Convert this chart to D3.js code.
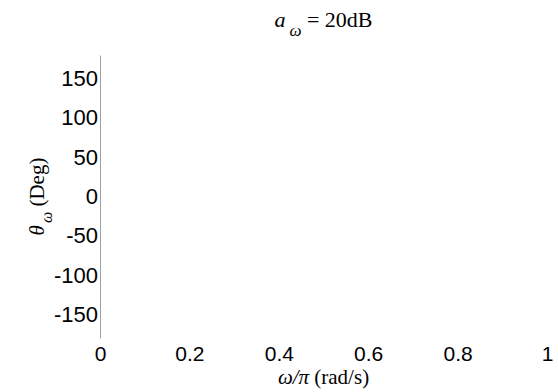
<!DOCTYPE html>
<html>
<head>
<meta charset="utf-8">
<script src="https://cdn.jsdelivr.net/npm/d3@7"></script>
<style>
  body { margin: 0; background: #fff; }
  svg { display: block; }
</style>
</head>
<body>
<svg id="chart"></svg>
<script>
// axis setup
const xDomain = [0, 1];
const yDomain = [-180, 180];
const xTicks = [0, 0.2, 0.4, 0.6, 0.8, 1];
const yTicks = [-150, -100, -50, 0, 50, 100, 150];
// the phase curve is not drawn in the reference, so the series is empty
const phaseSeries = [];

const width = 558, height = 392;
const margin = { top: 55, right: 11, bottom: 54, left: 100 };

const svg = d3.select('#chart')
  .attr('width', width)
  .attr('height', height);

const x = d3.scaleLinear()
  .domain(xDomain)
  .range([margin.left, width - margin.right]);

const y = d3.scaleLinear()
  .domain(yDomain)
  .range([height - margin.bottom, margin.top]);

const tickFont = '"Liberation Sans", Arial, sans-serif';
const labelFont = '"Liberation Serif", "Times New Roman", serif';

// y axis: plain grey spine, no tick marks
const yAxis = svg.append('g')
  .attr('transform', `translate(${margin.left},0)`)
  .call(d3.axisLeft(y).tickValues(yTicks).tickSize(0).tickSizeOuter(0).tickPadding(2)
    .tickFormat(d => String(d)));
yAxis.select('.domain').attr('stroke', '#a0a0a0');
yAxis.selectAll('text')
  .attr('font-family', tickFont)
  .attr('font-size', 22)
  .attr('fill', '#000');

// x axis: labels only
const xAxis = svg.append('g')
  .attr('transform', `translate(0,${height - margin.bottom})`)
  .call(d3.axisBottom(x).tickValues(xTicks).tickSize(0).tickPadding(8)
    .tickFormat(d => String(d)));
xAxis.select('.domain').remove();
xAxis.selectAll('text')
  .attr('font-family', tickFont)
  .attr('font-size', 21)
  .attr('fill', '#000');

// series (empty)
const line = d3.line().x(d => x(d[0])).y(d => y(d[1]));
svg.append('path')
  .datum(phaseSeries)
  .attr('fill', 'none')
  .attr('stroke', '#000')
  .attr('d', phaseSeries.length ? line : null);

// title
const cx = (x.range()[0] + x.range()[1]) / 2;
const title = svg.append('text')
  .attr('x', cx)
  .attr('y', 27)
  .attr('text-anchor', 'middle')
  .attr('font-family', labelFont)
  .attr('font-size', 22);
title.append('tspan').attr('font-style', 'italic').text('a');
title.append('tspan').attr('font-style', 'italic').attr('font-size', 17).attr('dx', 4).attr('dy', 9).text('ω');
title.append('tspan').attr('dy', -9).text(' = 20dB');

// x label
svg.append('text')
  .attr('x', cx)
  .attr('y', 384)
  .attr('text-anchor', 'middle')
  .attr('font-family', labelFont)
  .attr('font-size', 21)
  .call(t => {
    t.append('tspan').attr('font-style', 'italic').text('ω/π');
    t.append('tspan').text(' (rad/s)');
  });

// y label
const yl = svg.append('text')
  .attr('transform', `translate(44,${y(0)}) rotate(-90)`)
  .attr('text-anchor', 'middle')
  .attr('font-family', labelFont)
  .attr('font-size', 21);
yl.append('tspan').attr('font-style', 'italic').text('θ');
yl.append('tspan').attr('font-style', 'italic').attr('font-size', 16).attr('dx', 2).attr('dy', 8).text('ω');
yl.append('tspan').attr('dy', -8).text(' (Deg)');
</script>
</body>
</html>
